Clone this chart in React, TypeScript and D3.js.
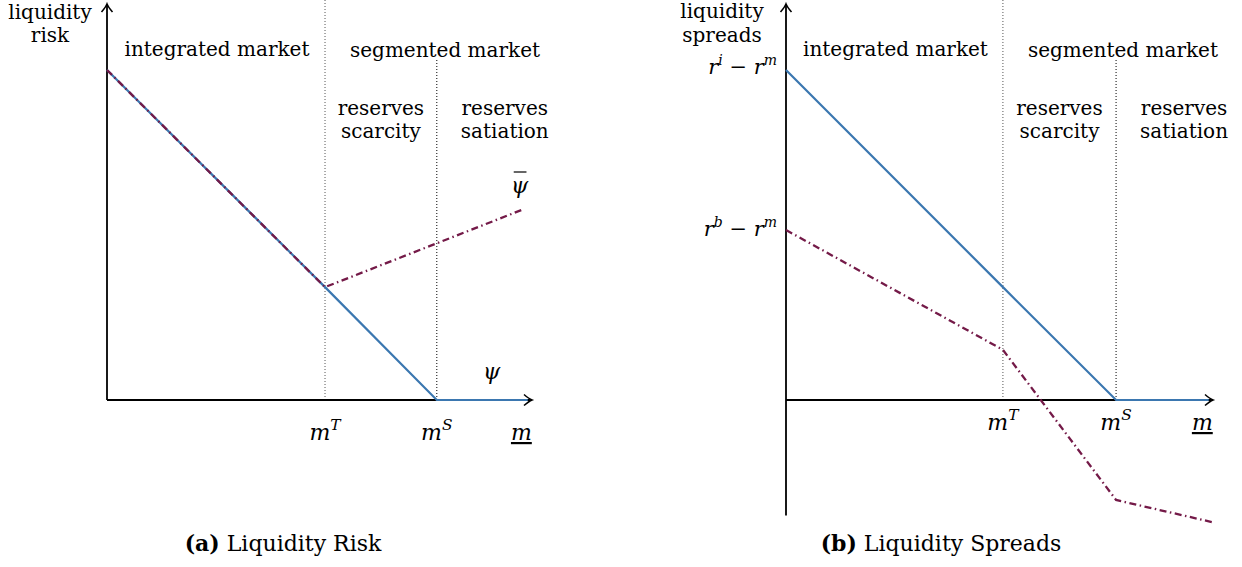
import React from "react";
import * as d3 from "d3";

// regime thresholds on the m axis (normalised)
const mTickNames = ["T", "S"];
const mTicksA = [0.513, 0.776];
const mTicksB = [0.508, 0.773];

// Panel (a): liquidity risk
const psiX = [0, 0.513, 0.776, 0.99];
const psiY = [1, 0.342, 0, 0];
const psiBarX = [0, 0.513, 0.976];
const psiBarY = [1, 0.342, 0.576];

// Panel (b): liquidity spreads
const spreadIX = [0, 0.508, 0.773, 0.99];
const spreadIY = [1, 0.342, 0, 0];
const spreadBX = [0, 0.508, 0.773, 0.998];
const spreadBY = [0.515, 0.152, -0.303, -0.37];

const BLUE = "#3b77b0";
const PURPLE = "#741a48";
const FONT = "'DejaVu Serif', 'Liberation Serif', serif";
const FS = 20;

const yScale = d3.scaleLinear().domain([0, 1]).range([400, 70]);
const xA = d3.scaleLinear().domain([0, 1]).range([107, 532]);
const xB = d3.scaleLinear().domain([0, 1]).range([786, 1213]);

function linePath(x: d3.ScaleLinear<number, number>, xs: number[], ys: number[]) {
  const pts: [number, number][] = xs.map((v, i) => [x(v), yScale(ys[i])]);
  return d3.line()(pts) || "";
}

const Arrow = ({ x, y, dir }: { x: number; y: number; dir: "up" | "right" }) => {
  const d = "M-8,-5.5 Q-3,-1.2 0,0 Q-3,1.2 -8,5.5";
  const rot = dir === "up" ? -90 : 0;
  return (
    <path d={d} transform={`translate(${x},${y}) rotate(${rot})`} fill="none" stroke="#000" strokeWidth={1.6} />
  );
};

const MLabel = ({ x, y, sup, fs }: { x: number; y: number; sup: string; fs: number }) => (
  <text x={x} y={y} textAnchor="middle" fontFamily={FONT} fontSize={fs} fontStyle="italic">
    m
    <tspan fontSize={fs * 0.7} dy={-10}>{sup}</tspan>
  </text>
);

const Panel = ({
  x,
  ticks,
  yBottom,
  children,
}: {
  x: d3.ScaleLinear<number, number>;
  ticks: number[];
  yBottom: number;
  children?: React.ReactNode;
}) => {
  const x0 = x(0);
  const xEnd = x(1);
  const yTop = yScale(1.2);
  return (
    <g>
      {/* dotted regime lines */}
      <line x1={x(ticks[0])} x2={x(ticks[0])} y1={0} y2={yScale(0)} stroke="#555" strokeWidth={1} strokeDasharray="1,2" />
      <line x1={x(ticks[1])} x2={x(ticks[1])} y1={60} y2={yScale(0)} stroke="#000" strokeWidth={1} strokeDasharray="1,2" />
      {/* axes */}
      <line x1={x0} x2={x0} y1={yScale(yBottom)} y2={yTop} stroke="#000" strokeWidth={1.8} />
      <line x1={x0} x2={xEnd} y1={yScale(0)} y2={yScale(0)} stroke="#000" strokeWidth={1.8} />
      <Arrow x={x0} y={yTop} dir="up" />
      <Arrow x={xEnd} y={yScale(0)} dir="right" />
      {children}
      {/* region labels */}
      <g fontFamily={FONT} fontSize={FS} textAnchor="middle">
        <text x={(x0 + x(ticks[0])) / 2 + 1} y={56}>integrated market</text>
        <text x={x(ticks[0]) + 120} y={57}>segmented market</text>
        <text x={(x(ticks[0]) + x(ticks[1])) / 2} y={115}>reserves</text>
        <text x={(x(ticks[0]) + x(ticks[1])) / 2} y={138}>scarcity</text>
        <text x={x(ticks[1]) + 68} y={115}>reserves</text>
        <text x={x(ticks[1]) + 68} y={138}>satiation</text>
      </g>
    </g>
  );
};

export default function App() {
  return (
    <svg width={1242} height={567} style={{ position: "absolute", left: 0, top: 0, background: "#fff" }}>
      {/* Panel (a) */}
      <Panel x={xA} ticks={mTicksA} yBottom={0}>
        <path d={linePath(xA, psiX, psiY)} fill="none" stroke={BLUE} strokeWidth={2.2} />
        <path d={linePath(xA, psiBarX, psiBarY)} fill="none" stroke={PURPLE} strokeWidth={2.3} strokeDasharray="7,3.5,1.5,3.5" />
      </Panel>
      <g fontFamily={FONT} fontSize={FS} textAnchor="middle">
        <text x={50} y={19}>liquidity</text>
        <text x={50} y={42}>risk</text>
      </g>
      <text x={xA(0.971)} y={193} fontFamily={FONT} fontSize={FS + 2} fontStyle="italic" textAnchor="middle">ψ</text>
      <line x1={xA(0.957)} x2={xA(0.987)} y1={172} y2={172} stroke="#000" strokeWidth={1.2} />
      <text x={xA(0.905)} y={379} fontFamily={FONT} fontSize={FS + 2} fontStyle="italic" textAnchor="middle">ψ</text>
      {mTicksA.map((t, i) => (
        <MLabel key={i} x={xA(t)} y={440} sup={mTickNames[i]} fs={FS + 2} />
      ))}
      <text x={xA(0.975)} y={440} fontFamily={FONT} fontSize={FS + 2} fontStyle="italic" textAnchor="middle" textDecoration="underline">m</text>

      {/* Panel (b) */}
      <Panel x={xB} ticks={mTicksB} yBottom={-0.35}>
        <path d={linePath(xB, spreadIX, spreadIY)} fill="none" stroke={BLUE} strokeWidth={2.2} />
        <path d={linePath(xB, spreadBX, spreadBY)} fill="none" stroke={PURPLE} strokeWidth={2.3} strokeDasharray="7,3.5,1.5,3.5" />
      </Panel>
      <g fontFamily={FONT} fontSize={FS} textAnchor="middle">
        <text x={722} y={18}>liquidity</text>
        <text x={722} y={42}>spreads</text>
      </g>
      <text x={777} y={yScale(spreadIY[0]) + 4} fontFamily={FONT} fontSize={FS + 1} textAnchor="end">
        <tspan fontStyle="italic">r</tspan>
        <tspan fontStyle="italic" fontSize={FS * 0.7} dy={-9}>i</tspan>
        <tspan dy={9}> − </tspan>
        <tspan fontStyle="italic">r</tspan>
        <tspan fontStyle="italic" fontSize={FS * 0.7} dy={-9}>m</tspan>
      </text>
      <text x={777} y={yScale(spreadBY[0]) + 6} fontFamily={FONT} fontSize={FS + 1} textAnchor="end">
        <tspan fontStyle="italic">r</tspan>
        <tspan fontStyle="italic" fontSize={FS * 0.7} dy={-9}>b</tspan>
        <tspan dy={9}> − </tspan>
        <tspan fontStyle="italic">r</tspan>
        <tspan fontStyle="italic" fontSize={FS * 0.7} dy={-9}>m</tspan>
      </text>
      {mTicksB.map((t, i) => (
        <MLabel key={i} x={xB(t)} y={430} sup={mTickNames[i]} fs={FS + 2} />
      ))}
      <text x={xB(0.975)} y={430} fontFamily={FONT} fontSize={FS + 2} fontStyle="italic" textAnchor="middle" textDecoration="underline">m</text>

      {/* captions */}
      <text x={283} y={551} fontFamily={FONT} fontSize={FS + 2} textAnchor="middle">
        <tspan fontWeight="bold">(a)</tspan> Liquidity Risk
      </text>
      <text x={941} y={551} fontFamily={FONT} fontSize={FS + 2} textAnchor="middle">
        <tspan fontWeight="bold">(b)</tspan> Liquidity Spreads
      </text>
    </svg>
  );
}
